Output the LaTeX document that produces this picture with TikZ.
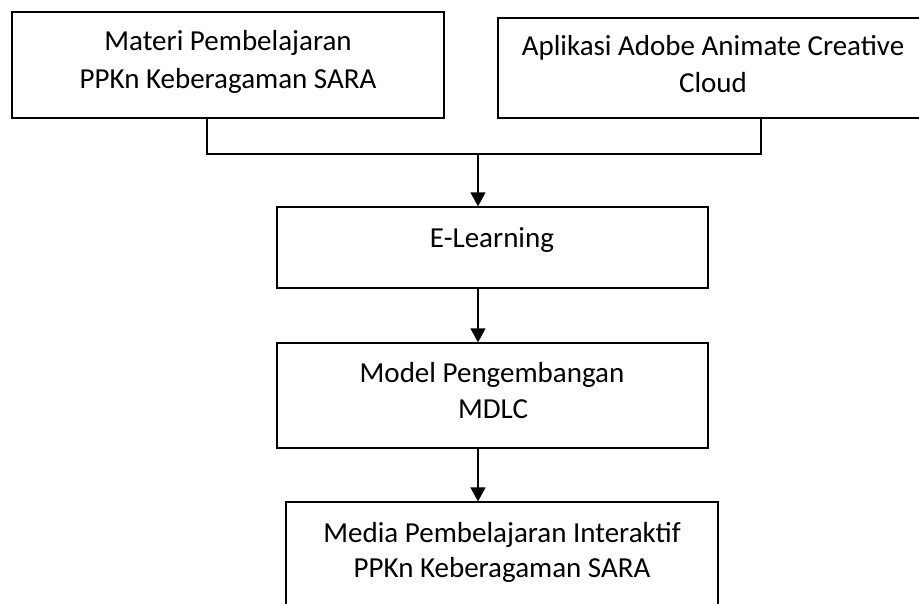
\documentclass[tikz,border=0pt]{standalone}
\usepackage{fontspec}
\setmainfont{Carlito}
\usetikzlibrary{arrows.meta}
\begin{document}
\begin{tikzpicture}[x=1pt,y=-1pt,
  box/.style={draw=black,line width=1.3pt,rectangle,inner sep=0pt},
  txt/.style={font=\fontsize{29}{36}\selectfont,align=center,inner sep=0pt,anchor=base},
  conn/.style={line width=1.3pt},
  arr/.style={line width=1.3pt,-{Triangle[width=15pt,length=14pt]}}]
\useasboundingbox (0,0) rectangle (919,603);
% boxes
\node[box,minimum width=432pt,minimum height=106pt] (b1) at (228,65) {};
\node[box,minimum width=424pt,minimum height=100pt] (b2) at (710,68) {};
\node[box,minimum width=431pt,minimum height=81pt] (el) at (492.5,247.5) {};
\node[box,minimum width=431pt,minimum height=105pt] (md) at (492.5,395.5) {};
\node[box,minimum width=432pt,minimum height=110pt] (mp) at (502,557) {};
% texts
\node[txt] (t1a) at (228,50) {Materi Pembelajaran};
\node[txt] (t1b) at (228,88) {PPKn Keberagaman SARA};
\node[txt] (t2a) at (713,55) {Aplikasi Adobe Animate Creative};
\node[txt] (t2b) at (713,92) {Cloud};
\node[txt] (t3) at (492,247) {E-Learning};
\node[txt] (t4a) at (492,382) {Model Pengembangan};
\node[txt] (t4b) at (493,418) {MDLC};
\node[txt] (t5a) at (502,542) {Media Pembelajaran Interaktif};
\node[txt] (t5b) at (502,577) {PPKn Keberagaman SARA};
% connectors
\coordinate (j1) at (207,154);
\coordinate (j2) at (761,154);
\coordinate (jm) at (478,154);
\draw[conn] (b1.south -| j1) -- (j1) -- (j2) -- (b2.south -| j2);
\draw[arr] (jm) -- (jm |- el.north);
\draw[arr] (jm |- el.south) -- (jm |- md.north);
\draw[arr] (jm |- md.south) -- (jm |- mp.north);
\end{tikzpicture}
\end{document}
